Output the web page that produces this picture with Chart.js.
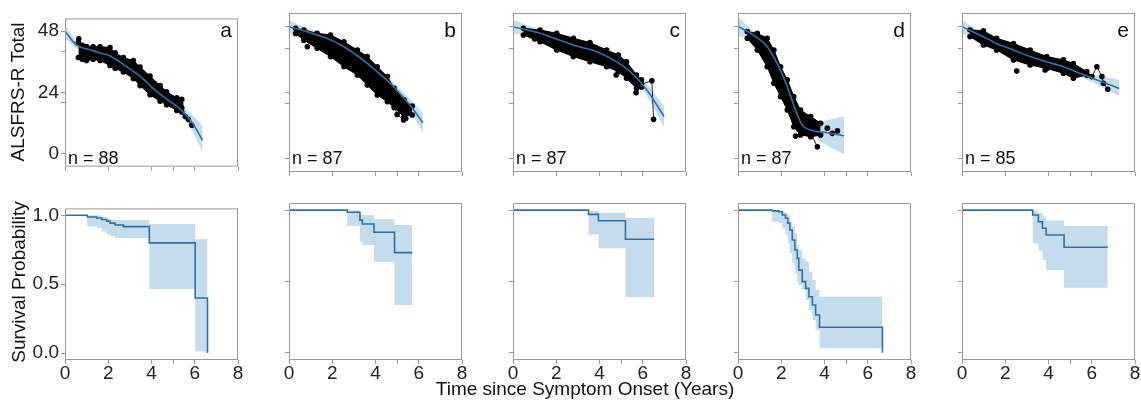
<!DOCTYPE html>
<html>
<head>
<meta charset="UTF-8">
<title>ALSFRS-R progression and survival by subgroup</title>
<script src="https://cdn.jsdelivr.net/npm/chart.js"></script>
<style>
  body { margin: 0; background: #fff; }
  #fig { position: relative; width: 1141px; height: 402px; overflow: hidden;
         font-family: "Liberation Sans", Arial, sans-serif; color: #111; }
  #fig canvas { position: absolute; }
  .lbl { position: absolute; white-space: nowrap; }
</style>
</head>
<body>
<div id="fig"></div>
<script>
const panels = ['a', 'b', 'c', 'd', 'e'];
const patients = [88, 87, 87, 87, 85];
const yearTicks = [0, 2, 4, 5, 6, 8];
const yearLabels = [0, 2, 4, 6, 8];
const scoreTicks = [0, 20, 24, 40, 48];
const scoreLabels = [0, 24, 48];
const survTicks = [0, 0.5, 1];

// ALSFRS-R model fit [years, score], its band [years, lo, hi],
// the dense cloud of visits [years, lo, hi] and the loose points around it
const fitA = [[0,48],[0.54,42.5],[1.16,40.7],[1.62,39.5],[2.08,38.3],[2.86,34],[3.47,30.4],[4.09,25.5],[4.71,21.3],[5.32,17.6],[5.94,11.5],[6.36,5.2]];
const ciA = [[0,45.5,50.5],[0.54,41,44],[1.16,39.6,41.8],[1.62,38.5,40.5],[2.08,37.3,39.3],[2.86,33,35],[3.47,29.4,31.4],[4.09,24.5,26.5],[4.71,20.2,22.4],[5.32,16,19.2],[5.94,8.2,14.8],[6.36,0.3,10.9]];
const cloudA = [[0.62,37.7,43.5],[0.8,37,42.5],[1.0,36.5,42],[1.3,37,41.9],[1.62,36.5,41.9],[2.08,34.6,41.6],[2.32,33.5,39.5],[2.7,32,37.7],[3.16,29.5,36.5],[3.47,26.7,34],[3.93,23.1,30.4],[4.4,20.6,26.7],[4.7,19.2,24.3],[5.17,17,21.9],[5.4,16.4,21.3]];
const dotsA = [[0.64,45],[5.35,19.5],[5.7,13.5]];
const trailA = [[5.4,18],[5.56,14.6],[5.86,11.2]];

const fitB = [[0,48],[0.53,46.9],[1.3,45],[1.92,43.2],[2.54,40.7],[3.16,37.4],[3.62,34.6],[4.08,31.5],[4.7,27.3],[5.47,20.6],[6.19,13]];
const ciB = [[0,45.5,50.5],[0.53,45.4,48.4],[1.3,44,46],[1.92,42.2,44.2],[2.54,39.7,41.7],[3.16,36.4,38.4],[3.62,33.6,35.6],[4.08,30.5,32.5],[4.7,26,28.6],[5.47,18.6,22.6],[6.19,9.5,16.5]];
const cloudB = [[0.3,45.5,47.4],[0.69,43.1,46.8],[1.3,40.1,45.6],[1.92,37.1,45],[2.54,33.4,42.5],[3.16,30.4,39.5],[3.62,26.7,37.1],[4.08,23.1,33.4],[4.55,20.6,29.8],[4.86,18.5,25.5],[5.32,15.2,21.3],[5.7,15.8,19.1]];
const dotsB = [[0.85,40.7],[4.7,23],[5.4,14.5]];
const trailB = [[4.86,19.5],[5.0,16],[5.3,14]];

const fitC = [[0,48],[1.25,45.6],[2.79,41.3],[3.87,38.9],[4.64,35.9],[5.42,31.6],[6.19,24.9],[6.99,15.2]];
const ciC = [[0,45.5,50.5],[1.25,44.4,46.8],[2.79,40.3,42.3],[3.87,37.9,39.9],[4.64,34.8,37],[5.42,30.4,32.8],[6.19,22.8,27],[6.99,11.3,19.1]];
const cloudC = [[0.48,45,47.4],[1.25,42.5,46.8],[2.02,39.5,45.6],[2.79,37.1,43.8],[3.56,35.2,42.2],[4.33,33.4,39.5],[4.87,31.6,37.7],[5.25,29.2,35.2],[5.71,25.5,30.4],[5.94,26,28.6]];
const dotsC = [[1.0,43.5],[4.77,30.4],[5.69,23.9]];
const trailC = [[5.94,27],[6.42,28.3],[6.5,14.2]];

const fitD = [[0,48],[0.58,45.6],[1.35,40.7],[1.81,34.6],[2.28,26.1],[2.66,17.6],[2.97,12.1],[3.36,10.3],[4.13,9.3],[4.9,8.2]];
const ciD = [[0,44.4,51.6],[0.58,43.9,47.3],[1.35,39.6,41.8],[1.81,33.6,35.6],[2.28,25.1,27.1],[2.66,16.5,18.7],[2.97,10.9,13.3],[3.36,8.8,11.8],[4.13,4.6,13.9],[4.9,1.6,15.2]];
const cloudD = [[0.43,43.8,46.2],[0.89,39.5,45.6],[1.35,33.4,43.8],[1.66,27.4,39.5],[1.97,22.5,33.4],[2.28,17.6,28.6],[2.58,11.5,22.5],[2.89,8.5,17.6],[3.36,7.9,15.2],[3.82,8.5,12.8]];
const dotsD = [[2.66,8.1],[4.13,11],[4.36,9.1],[4.6,10]];
const trailD = [[3.4,8.5],[3.67,4.2]];

const fitE = [[0,48],[0.83,45],[1.6,41.9],[2.38,39.5],[3.15,37.1],[3.92,35.2],[4.69,33.4],[5.46,31],[6.24,28.6],[7.27,25.5]];
const ciE = [[0,45.5,50.5],[0.83,43.7,46.3],[1.6,40.9,42.9],[2.38,38.5,40.5],[3.15,36.1,38.1],[3.92,34.2,36.2],[4.69,32.4,34.4],[5.46,29.7,32.3],[6.24,26.9,30.3],[7.27,22.7,28.6]];
const cloudE = [[0.37,44.4,46.8],[0.99,41.3,46.5],[1.6,39.5,43.8],[2.38,35.9,41.9],[3.15,34,39.5],[3.92,32.8,37.1],[4.69,31,35.9],[5.15,29.2,34.6],[5.77,30.4,31.6]];
const dotsE = [[2.53,31.8],[3.84,32.2]];
const trailE = [[5.77,30.5],[6.0,29.8],[6.24,33.4],[6.47,29.8],[6.54,27.4],[6.74,25.2]];

// Kaplan-Meier curves [years, S] and bands [years, lo, hi]
const kmA = [[0,1],[1.03,0.988],[1.47,0.98],[1.7,0.97],[1.93,0.958],[2.08,0.943],[2.31,0.93],[2.7,0.918],[3.9,0.8],[6.02,0.4],[6.59,0]];
const kmBandA = [[0,1,1],[1.03,0.919,1],[1.47,0.906,1],[1.7,0.88,0.985],[1.93,0.86,0.975],[2.08,0.85,0.97],[2.31,0.835,0.965],[2.7,0.835,0.965],[3.9,0.465,0.937],[6.02,0.011,0.826],[6.59,0.011,0.826]];
const kmB = [[0,1],[2.69,0.985],[3.28,0.93],[3.39,0.903],[3.93,0.845],[4.88,0.702],[5.7,0.702]];
const kmBandB = [[0,1,1],[2.69,0.889,1],[3.28,0.78,0.966],[3.39,0.756,0.966],[3.93,0.639,0.936],[4.88,0.335,0.896],[5.7,0.335,0.896]];
const kmC = [[0,1],[3.49,0.97],[3.95,0.926],[5.2,0.796],[6.53,0.796]];
const kmBandC = [[0,1,1],[3.49,0.83,0.994],[3.95,0.733,0.982],[5.2,0.39,0.947],[6.53,0.39,0.947]];
const kmD = [[0,1],[1.58,0.995],[1.89,0.989],[2.05,0.966],[2.2,0.943],[2.31,0.908],[2.4,0.861],[2.51,0.791],[2.63,0.721],[2.74,0.662],[2.81,0.58],[2.97,0.499],[3.13,0.452],[3.28,0.393],[3.44,0.335],[3.59,0.265],[3.77,0.179],[6.68,0]];
const kmBandD = [[0,1,1],[1.58,0.919,1],[1.89,0.908,0.996],[2.05,0.873,0.989],[2.2,0.826,0.978],[2.31,0.768,0.959],[2.4,0.698,0.919],[2.51,0.627,0.885],[2.63,0.557,0.838],[2.74,0.499,0.756],[2.81,0.475,0.721],[2.97,0.44,0.662],[3.13,0.37,0.639],[3.28,0.3,0.569],[3.44,0.23,0.51],[3.59,0.16,0.44],[3.77,0.032,0.393],[6.68,0.032,0.393]];
const kmE = [[0,1],[3.27,0.966],[3.53,0.919],[3.72,0.873],[3.89,0.826],[4.72,0.74],[6.74,0.74]];
const kmBandE = [[0,1,1],[3.27,0.768,0.996],[3.53,0.716,0.982],[3.72,0.65,0.955],[3.89,0.58,0.927],[4.72,0.457,0.889],[6.74,0.457,0.889]];

const scoreData = [
  [fitA, ciA, cloudA, dotsA, trailA],
  [fitB, ciB, cloudB, dotsB, trailB],
  [fitC, ciC, cloudC, dotsC, trailC],
  [fitD, ciD, cloudD, dotsD, trailD],
  [fitE, ciE, cloudE, dotsE, trailE]
];
const survData = [[kmA, kmBandA], [kmB, kmBandB], [kmC, kmBandC], [kmD, kmBandD], [kmE, kmBandE]];

// layout
const PANEL_X = [65, 289, 513, 738, 962];
const PANEL_W = 173;
const ROWS = [{top: 13, h: 159, under: 8}, {top: 203, h: 157, under: 32}];
const AXIS_W = 52, PAD_T = 8, PAD_R = 14;
const BLUE = '#2b72a5';
const BAND = 'rgba(31,119,180,0.26)';
const NONE = 'rgba(0,0,0,0)';

Chart.defaults.font.family = "'Liberation Sans', Arial, sans-serif";
Chart.defaults.color = '#222';

const fig = document.getElementById('fig');

const framePlugin = {
  id: 'frame',
  afterDatasetsDraw(chart) {
    const a = chart.chartArea, ctx = chart.ctx;
    ctx.save();
    ctx.strokeStyle = '#999';
    ctx.lineWidth = 1;
    ctx.strokeRect(a.left + 0.5, a.top + 0.5, a.right - a.left - 1, a.bottom - a.top - 1);
    ctx.restore();
  }
};

function pts(arr, k) {
  return arr.map(p => ({x: p[0], y: p[k || 1]}));
}

function scoreSets(fit, ci, cloud, dots, trail) {
  const dot = {pointRadius: 2.8, pointBackgroundColor: '#000', pointBorderColor: '#000', pointBorderWidth: 0};
  return [
    {data: pts(ci, 2), fill: '+1', backgroundColor: BAND, borderColor: NONE, borderWidth: 0, pointRadius: 0, cubicInterpolationMode: 'monotone', order: 6},
    {data: pts(ci, 1), fill: false, borderColor: NONE, borderWidth: 0, pointRadius: 0, cubicInterpolationMode: 'monotone', order: 6},
    Object.assign({data: pts(cloud, 2), fill: '+1', backgroundColor: '#000', borderColor: '#000', borderWidth: 1, order: 4}, dot),
    Object.assign({data: pts(cloud, 1), fill: false, borderColor: '#000', borderWidth: 1, order: 4}, dot),
    Object.assign({data: pts(dots), showLine: false, order: 3}, dot),
    Object.assign({data: pts(trail), borderColor: '#222', borderWidth: 1, order: 3}, dot),
    {data: pts(fit), borderColor: BLUE, borderWidth: 1.6, pointRadius: 0, cubicInterpolationMode: 'monotone', order: 1}
  ];
}

function survSets(km, band) {
  return [
    {data: pts(band, 2), stepped: true, fill: '+1', backgroundColor: BAND, borderColor: NONE, borderWidth: 0, pointRadius: 0, order: 3},
    {data: pts(band, 1), stepped: true, fill: false, borderColor: NONE, borderWidth: 0, pointRadius: 0, order: 3},
    {data: pts(km), stepped: true, borderColor: BLUE, borderWidth: 1.6, pointRadius: 0, order: 1}
  ];
}

function makeChart(col, row, datasets) {
  const r = ROWS[row];
  const cv = document.createElement('canvas');
  cv.width = AXIS_W + PANEL_W + PAD_R;
  cv.height = PAD_T + r.h + r.under;
  cv.style.left = (PANEL_X[col] - AXIS_W) + 'px';
  cv.style.top = (r.top - PAD_T) + 'px';
  fig.appendChild(cv);

  const yTicks = row === 0 ? scoreTicks : survTicks;
  const yShown = row === 0 ? scoreLabels : survTicks;
  const tickGrid = {drawOnChartArea: false, tickLength: 4, color: '#999', lineWidth: 1};

  return new Chart(cv, {
    type: 'line',
    data: {datasets: datasets},
    options: {
      responsive: false,
      animation: false,
      events: [],
      layout: {padding: {left: 0, top: PAD_T, right: PAD_R, bottom: 0}},
      plugins: {legend: {display: false}, tooltip: {enabled: false}, colors: {enabled: false}},
      scales: {
        x: {
          type: 'linear', min: 0, max: 8,
          afterBuildTicks: s => { s.ticks = yearTicks.map(v => ({value: v})); },
          afterFit: s => { s.height = r.under; },
          grid: tickGrid,
          border: {display: false},
          ticks: {
            display: row === 1, padding: 0, color: '#222',
            font: {size: 19, lineHeight: 1},
            callback: v => yearLabels.includes(v) ? String(v) : ''
          }
        },
        y: {
          type: 'linear',
          min: row === 0 ? -5 : -0.05,
          max: row === 0 ? 53 : 1.05,
          afterBuildTicks: s => { s.ticks = yTicks.map(v => ({value: v})); },
          afterFit: s => { s.width = AXIS_W; },
          grid: tickGrid,
          border: {display: false},
          ticks: {
            display: col === 0, padding: 2, color: '#222',
            font: {size: 19},
            callback: v => yShown.includes(v) ? (row === 0 ? String(v) : v.toFixed(1)) : ''
          }
        }
      }
    },
    plugins: [framePlugin]
  });
}

function addText(txt, css) {
  const d = document.createElement('div');
  d.className = 'lbl';
  d.textContent = txt;
  Object.assign(d.style, css);
  fig.appendChild(d);
}

panels.forEach((p, i) => {
  makeChart(i, 0, scoreSets.apply(null, scoreData[i]));
  makeChart(i, 1, survSets.apply(null, survData[i]));

  addText(p, {
    right: (1141 - (PANEL_X[i] + PANEL_W - 6)) + 'px', top: '19px',
    fontSize: '21px', lineHeight: '21px'
  });
  addText('n = ' + patients[i], {
    left: (PANEL_X[i] + 3) + 'px', top: '149px',
    fontSize: '18px', lineHeight: '18px'
  });
});

addText('ALSFRS-R Total', {
  left: '17px', top: '92px', fontSize: '19px', lineHeight: '19px',
  transform: 'translate(-50%, -50%) rotate(-90deg)'
});
addText('Survival Probability', {
  left: '18px', top: '282px', fontSize: '19px', lineHeight: '19px',
  transform: 'translate(-50%, -50%) rotate(-90deg)'
});
addText('Time since Symptom Onset (Years)', {
  left: '585px', top: '379px', fontSize: '19px', lineHeight: '19px',
  transform: 'translateX(-50%)'
});
</script>
</body>
</html>
